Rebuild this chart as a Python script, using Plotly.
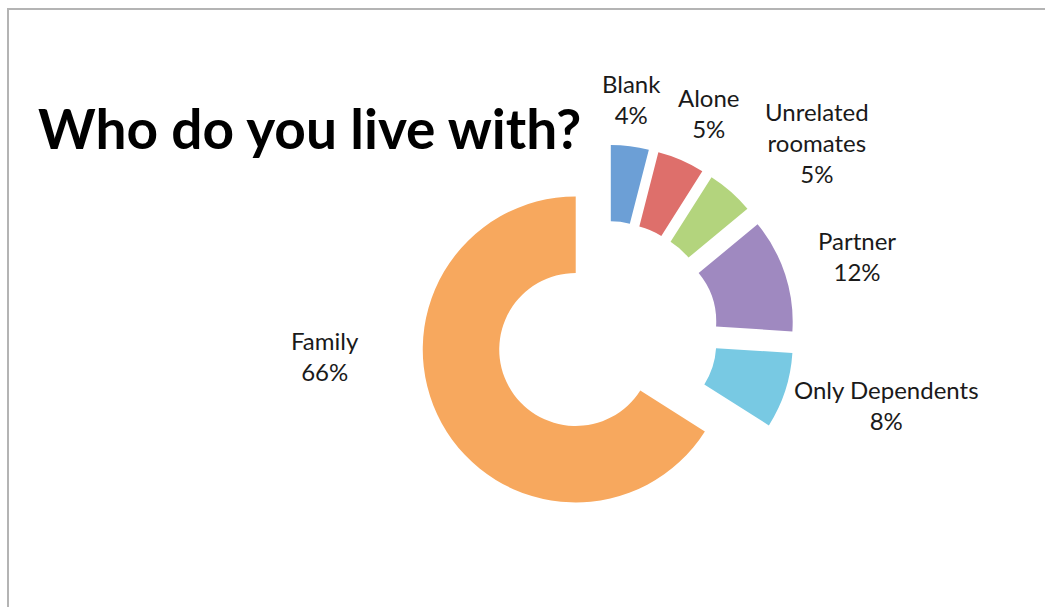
import plotly.graph_objects as go

# ---- data ----
categories = ["Blank", "Alone", "Unrelated roomates", "Partner", "Only Dependents", "Family"]
percents = [4, 5, 5, 12, 8, 66]
pulls = [0.229, 0.229, 0.229, 0.229, 0.229, 0.229]
colors = ["#6c9fd6", "#de6f6b", "#b3d47d", "#9f89c0", "#78c9e3", "#f7a85e"]

# label display (wrapped names) and label anchor positions (pixels in 1045x607 page)
display_names = ["Blank", "Alone", "Unrelated<br>roomates", "Partner", "Only Dependents", "Family"]
label_px = [(631, 99), (709, 113), (817, 143), (857, 256), (886, 405), (325, 356)]

W, H = 1045, 607
FONT = "Lato"

fig = go.Figure()
fig.add_trace(go.Pie(
    labels=categories,
    values=percents,
    pull=pulls,
    hole=0.5,
    sort=False,
    direction="clockwise",
    rotation=0,
    textinfo="none",
    marker=dict(colors=colors, line=dict(width=0)),
    domain=dict(x=[0.4004, 0.7602], y=[0.1423, 0.7618]),
    showlegend=False,
))

for name, v, (px, py) in zip(display_names, percents, label_px):
    fig.add_annotation(
        x=px / W, y=1 - py / H, xref="paper", yref="paper",
        text=f"{name}<br>{v}%", showarrow=False,
        xanchor="center", yanchor="middle", align="center",
        font=dict(family=FONT, size=24, color="#1a1a1a"),
    )

# title
fig.add_annotation(
    x=36 / W, y=1 - 128 / H, xref="paper", yref="paper",
    text="<b>Who do you live with?</b>", showarrow=False,
    xanchor="left", yanchor="middle",
    font=dict(family=FONT, size=55, color="#000000"),
)

# chart frame border
fig.add_shape(type="rect", xref="paper", yref="paper",
              x0=8 / W, y0=-0.05, x1=1.05, y1=1 - 9 / H,
              line=dict(color="#b4b4b4", width=2), fillcolor="rgba(0,0,0,0)")

fig.update_layout(
    width=W, height=H,
    margin=dict(l=0, r=0, t=0, b=0),
    paper_bgcolor="white", plot_bgcolor="white",
    font=dict(family=FONT),
)

fig.write_html("out.html")
